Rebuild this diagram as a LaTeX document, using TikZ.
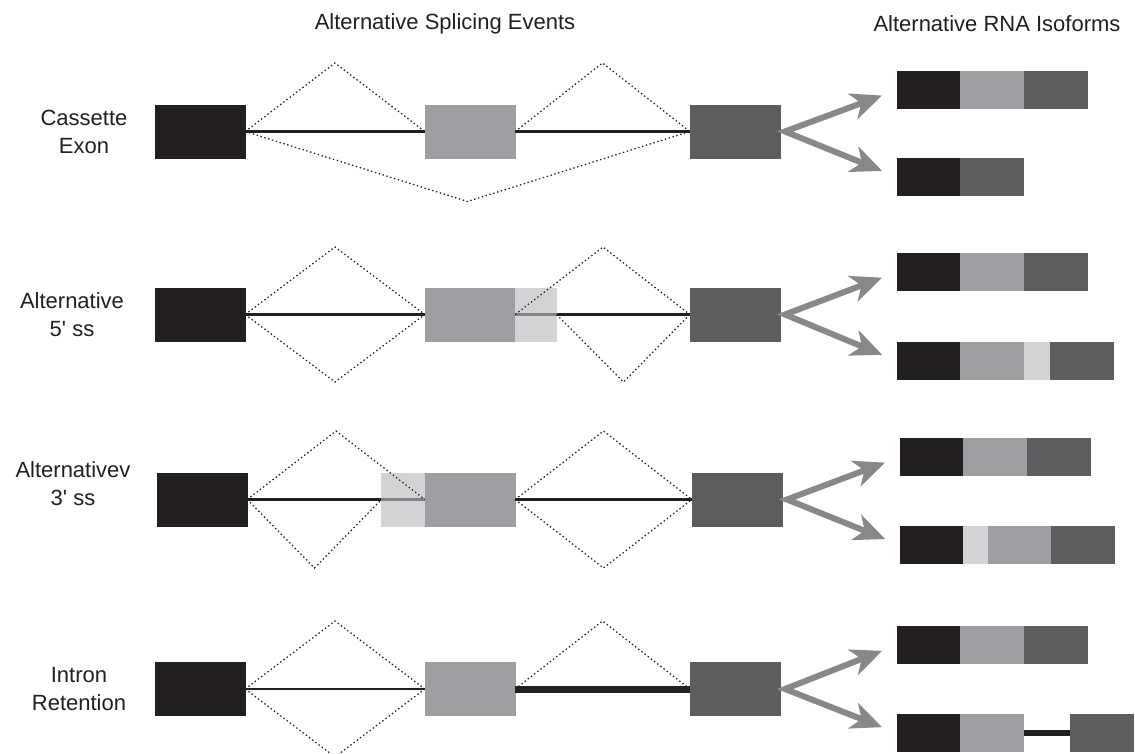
\documentclass[tikz,border=0pt]{standalone}
\usepackage{fontspec}
\setmainfont{Liberation Sans}
\usetikzlibrary{positioning,arrows.meta}
\definecolor{exblack}{HTML}{231F20}
\definecolor{exgray}{HTML}{9D9FA2}
\definecolor{exdark}{HTML}{5D5D5F}
\definecolor{exlight}{HTML}{D1D3D4}
\definecolor{arrowgray}{HTML}{87888A}
\definecolor{introngray}{HTML}{808285}

\begin{document}
\begin{tikzpicture}[x=1pt,y=-1pt,
    every node/.style={font=\fontsize{22}{28}\selectfont,text=exblack,align=center},
    exon/.style={rectangle,inner sep=0pt,minimum width=90pt,minimum height=53pt},
    seg/.style={rectangle,inner sep=0pt,minimum height=37pt,minimum width=63pt},
    tone/.style={fill=#1,draw=#1,line width=0.4pt},
    intron/.style={exblack,line width=2.6pt},
    fade/.style={introngray,line width=2.6pt},
    junction/.style={exblack,line width=1.25pt,dash pattern=on 1.4pt off 2.6pt},
    fork/.style={arrowgray,line width=6pt,line join=miter,
      {Stealth[length=31pt,width=27pt,inset=9pt]}-{Stealth[length=31pt,width=27pt,inset=9pt]},
      shorten <=16pt,shorten >=16pt}]
    \useasboundingbox (0,0) rectangle (1135,754);

    % headings
    \node (events) at (445,24) {Alternative Splicing Events};
    \node (isoforms) at (997,24) {Alternative RNA Isoforms};

    % cassette exon
    \node (lab1) at (84,131.5) {Cassette\\Exon};
    \node (up1) at (200,131.5) [exon,tone=exblack] {};
    \node (mid1) at (470,131.5) [exon,tone=exgray] {};
    \node (dn1) at (735,131.5) [exon,tone=exdark] {};
    \coordinate (a1) at (335,63);
    \coordinate (b1) at (602.5,63);
    \coordinate (c1) at (467.5,201.5);
    \draw [intron] (up1.east) -- (mid1.west);
    \draw [intron] (mid1.east) -- (dn1.west);
    \draw [junction] (up1.east) -- (a1) -- (mid1.west);
    \draw [junction] (mid1.east) -- (b1) -- (dn1.west);
    \draw [junction] (up1.east) -- (c1) -- (dn1.west);
    \node (iso1u1) at (897,90) [seg,anchor=west,tone=exblack] {};
    \node (iso1u2) [seg,right=0pt of iso1u1,tone=exgray] {};
    \node (iso1u3) [seg,right=0pt of iso1u2,tone=exdark] {};
    \node (iso1l1) at (897,177) [seg,anchor=west,tone=exblack] {};
    \node (iso1l2) [seg,right=0pt of iso1l1,tone=exdark] {};
    \coordinate (f1) at (785,131.5);
    \draw [fork] (iso1u1.west) -- (f1) -- (iso1l1.west);

    % alternative 5' splice site
    \node (lab2) at (72,314.5) {Alternative\\5\textquotesingle\ ss};
    \node (up2) at (200,314.5) [exon,tone=exblack] {};
    \node (mid2) at (470,314.5) [exon,tone=exgray] {};
    \node (alt2) [exon,right=0pt of mid2,minimum width=41pt,tone=exlight] {};
    \node (dn2) at (735,314.5) [exon,tone=exdark] {};
    \coordinate (a2) at (335,247);
    \coordinate (d2) at (335,382);
    \coordinate (b2) at (603,247);
    \coordinate (e2) at (623.5,382);
    \draw [intron] (up2.east) -- (mid2.west);
    \draw [fade] (alt2.west) -- (alt2.east);
    \draw [intron] (alt2.east) -- (dn2.west);
    \draw [junction] (up2.east) -- (a2) -- (mid2.west);
    \draw [junction] (up2.east) -- (d2) -- (mid2.west);
    \draw [junction] (mid2.east) -- (b2) -- (dn2.west);
    \draw [junction] (alt2.east) -- (e2) -- (dn2.west);
    \node (iso2u1) at (897,272) [seg,anchor=west,tone=exblack] {};
    \node (iso2u2) [seg,right=0pt of iso2u1,tone=exgray] {};
    \node (iso2u3) [seg,right=0pt of iso2u2,tone=exdark] {};
    \node (iso2l1) at (897,361) [seg,anchor=west,tone=exblack] {};
    \node (iso2l2) [seg,right=0pt of iso2l1,tone=exgray] {};
    \node (iso2l3) [seg,right=0pt of iso2l2,minimum width=26pt,tone=exlight] {};
    \node (iso2l4) [seg,right=0pt of iso2l3,tone=exdark] {};
    \coordinate (f2) at (785,314.5);
    \draw [fork] (iso2u1.west) -- (f2) -- (iso2l1.west);

    % alternative 3' splice site
    \node (lab3) at (73,484) {Alternativev\\3\textquotesingle\ ss};
    \node (up3) at (202,499.5) [exon,tone=exblack] {};
    \node (mid3) at (470,499.5) [exon,tone=exgray] {};
    \node (alt3) [exon,left=0pt of mid3,minimum width=43pt,tone=exlight] {};
    \node (dn3) at (737,499.5) [exon,tone=exdark] {};
    \coordinate (a3) at (336,431);
    \coordinate (d3) at (314.5,568);
    \coordinate (b3) at (603.5,431);
    \coordinate (e3) at (603.5,568);
    \draw [intron] (up3.east) -- (alt3.west);
    \draw [fade] (alt3.west) -- (alt3.east);
    \draw [intron] (mid3.east) -- (dn3.west);
    \draw [junction] (up3.east) -- (a3) -- (mid3.west);
    \draw [junction] (up3.east) -- (d3) -- (alt3.west);
    \draw [junction] (mid3.east) -- (b3) -- (dn3.west);
    \draw [junction] (mid3.east) -- (e3) -- (dn3.west);
    \node (iso3u1) at (900,457) [seg,anchor=west,tone=exblack] {};
    \node (iso3u2) [seg,right=0pt of iso3u1,tone=exgray] {};
    \node (iso3u3) [seg,right=0pt of iso3u2,tone=exdark] {};
    \node (iso3l1) at (900,545) [seg,anchor=west,tone=exblack] {};
    \node (iso3l2) [seg,right=0pt of iso3l1,minimum width=24pt,tone=exlight] {};
    \node (iso3l3) [seg,right=0pt of iso3l2,tone=exgray] {};
    \node (iso3l4) [seg,right=0pt of iso3l3,tone=exdark] {};
    \coordinate (f3) at (787,499.5);
    \draw [fork] (iso3u1.west) -- (f3) -- (iso3l1.west);

    % intron retention
    \node (lab4) at (79,689) {Intron\\Retention};
    \node (up4) at (200,689) [exon,tone=exblack] {};
    \node (mid4) at (470,689) [exon,tone=exgray] {};
    \node (dn4) at (735,689) [exon,tone=exdark] {};
    \coordinate (a4) at (335,621);
    \coordinate (d4) at (335,757);
    \coordinate (b4) at (602.5,621);
    \draw [intron] (up4.east) -- (mid4.west);
    \draw [exblack,line width=7pt] (mid4.east) -- (dn4.west);
    \draw [junction] (up4.east) -- (a4) -- (mid4.west);
    \draw [junction] (up4.east) -- (d4) -- (mid4.west);
    \draw [junction] (mid4.east) -- (b4) -- (dn4.west);
    \node (iso4u1) at (897,645) [seg,anchor=west,tone=exblack] {};
    \node (iso4u2) [seg,right=0pt of iso4u1,tone=exgray] {};
    \node (iso4u3) [seg,right=0pt of iso4u2,tone=exdark] {};
    \node (iso4l1) at (897,733) [seg,anchor=west,tone=exblack] {};
    \node (iso4l2) [seg,right=0pt of iso4l1,tone=exgray] {};
    \node (iso4l3) [seg,right=46pt of iso4l2,tone=exdark] {};
    \draw [exblack,line width=5.5pt] (iso4l2.east) -- (iso4l3.west);
    \coordinate (f4) at (785,689);
    \draw [fork] (iso4u1.west) -- (f4) -- (iso4l1.west);
  \end{tikzpicture}
\end{document}
